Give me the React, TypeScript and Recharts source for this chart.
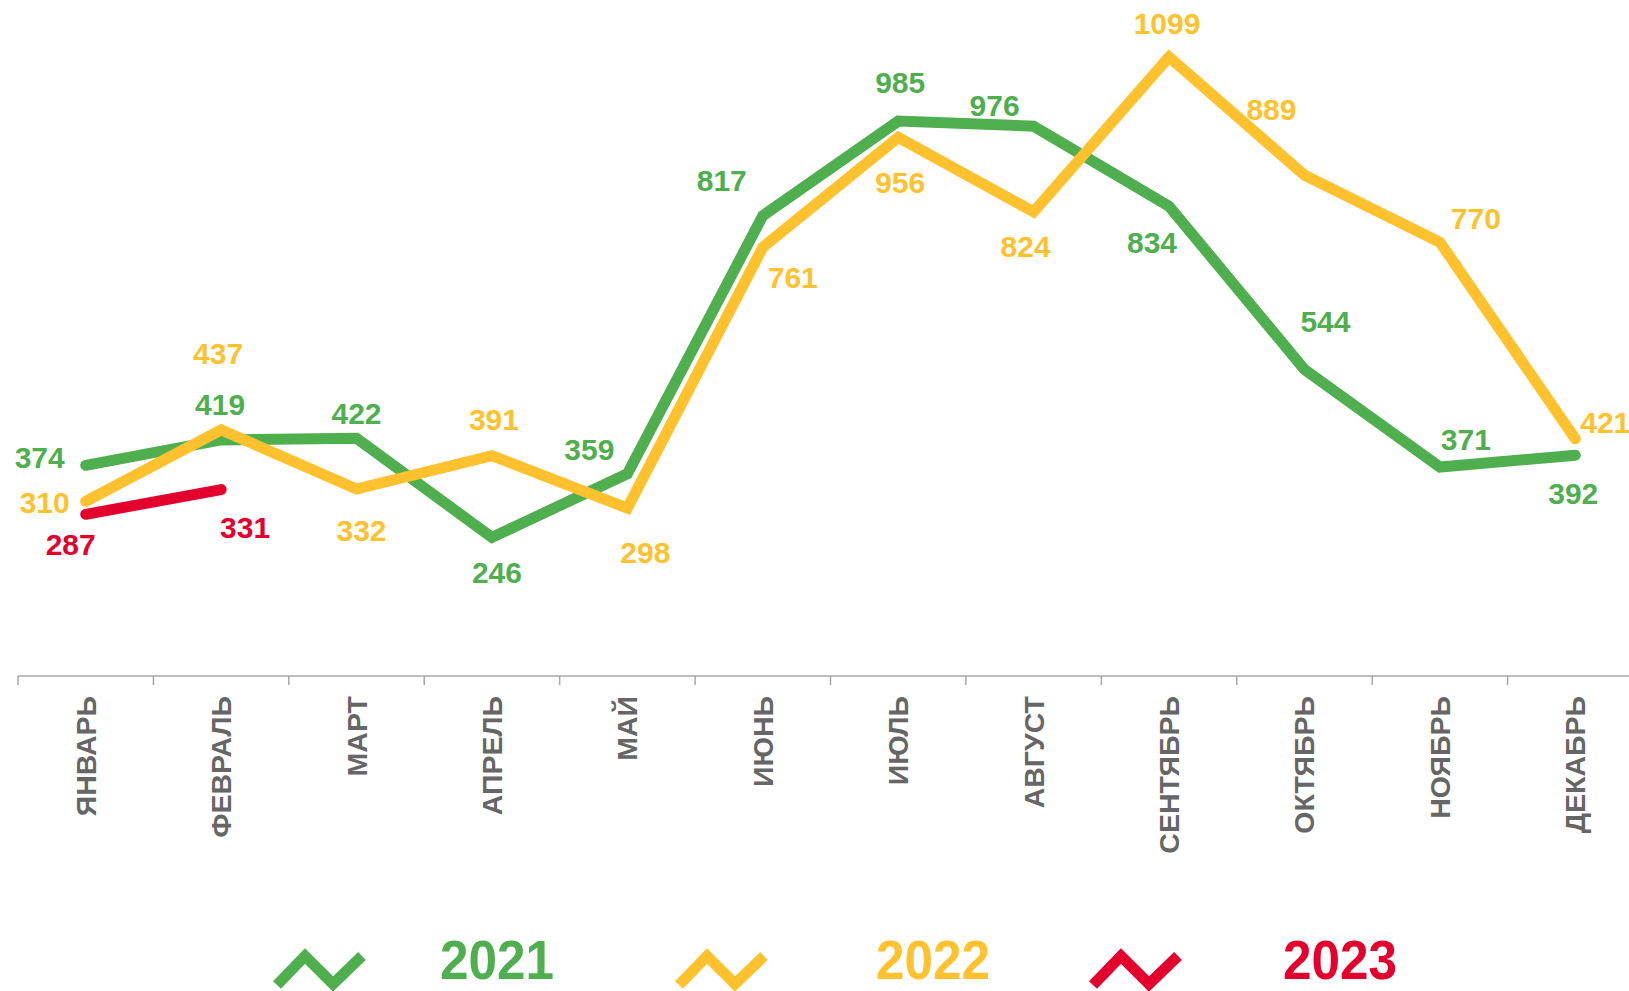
import { LineChart, Line, XAxis, YAxis, LabelList } from "recharts";

const MONTHS = [
  "ЯНВАРЬ",
  "ФЕВРАЛЬ",
  "МАРТ",
  "АПРЕЛЬ",
  "МАЙ",
  "ИЮНЬ",
  "ИЮЛЬ",
  "АВГУСТ",
  "СЕНТЯБРЬ",
  "ОКТЯБРЬ",
  "НОЯБРЬ",
  "ДЕКАБРЬ",
];

const Y2021 = [374, 419, 422, 246, 359, 817, 985, 976, 834, 544, 371, 392];
const Y2022 = [310, 437, 332, 391, 298, 761, 956, 824, 1099, 889, 770, 421];
const Y2023 = [287, 331];

const GREEN = "#4faf4f";
const YELLOW = "#ffc22e";
const RED = "#e3002c";
const FONT = "Arial, 'Liberation Sans', sans-serif";

// label nudges relative to each point [dx, dy]
const OFF_2021 = [
  [-46, -8], [-1, -35], [0, -25], [5, 35], [-38, -24], [-41, -35],
  [2, -39], [-39, -21], [-17, 36], [21, -48], [26, -28], [-2, 38],
];
const OFF_2022 = [
  [-41, 1], [-3, -76], [5, 42], [2, -36], [18, 44], [30, 30],
  [2, 45], [-8, 35], [-2, -33], [-33, -66], [36, -24], [30, -16],
];
const OFF_2023 = [
  [-15, 30], [24, 38],
];

const data = MONTHS.map((m, i) => ({
  month: m,
  y2021: Y2021[i],
  y2022: Y2022[i],
  y2023: i < Y2023.length ? Y2023[i] : null,
}));

const CHART_W = 1643;
const CHART_H = 991;
const LEFT = 18;
const BAND = (CHART_W - LEFT) / MONTHS.length;

function makeLabel(color: string, offsets: number[][]) {
  return (props: any) => {
    const { x, y, value, index } = props;
    if (value == null) return null;
    const [dx, dy] = offsets[index] || [0, 0];
    return (
      <text
        x={x + dx}
        y={y + dy}
        fill={color}
        fontSize={30}
        fontWeight="bold"
        fontFamily={FONT}
        textAnchor="middle"
        dominantBaseline="central"
      >
        {value}
      </text>
    );
  };
}

function MonthTick(props: any) {
  const { x, y, payload } = props;
  return (
    <g>
      <line x1={x - BAND / 2} y1={y} x2={x - BAND / 2} y2={y + 9} stroke="#a6a6a6" strokeWidth={1.5} />
      <text
        transform={`translate(${x}, ${y + 20}) rotate(-90)`}
        textAnchor="end"
        dominantBaseline="central"
        fill="#666666"
        fontSize={28.5}
        fontWeight="bold"
        fontFamily={FONT}
      >
        {payload.value}
      </text>
    </g>
  );
}

const LEGEND = [
  { label: "2021", color: GREEN, icon: 277, text: 440 },
  { label: "2022", color: YELLOW, icon: 679, text: 876 },
  { label: "2023", color: RED, icon: 1093, text: 1283 },
];

export default function App() {
  return (
    <div
      style={{
        position: "absolute",
        left: 0,
        top: 0,
        width: 1629,
        height: 991,
        overflow: "hidden",
        background: "#fff",
      }}
    >
      <LineChart
        width={CHART_W}
        height={CHART_H}
        data={data}
        margin={{ top: 0, right: 0, left: LEFT, bottom: 0 }}
      >
        <XAxis
          dataKey="month"
          height={CHART_H - 676}
          padding={{ left: BAND / 2, right: BAND / 2 }}
          tickSize={0}
          tickMargin={0}
          tickLine={false}
          axisLine={{ stroke: "#a6a6a6", strokeWidth: 1.5 }}
          tick={<MonthTick />}
          interval={0}
        />
        <YAxis hide domain={[0, 1200]} />
        <Line
          dataKey="y2021"
          stroke={GREEN}
          strokeWidth={11}
          strokeLinecap="round"
          dot={false}
          isAnimationActive={false}
        >
          <LabelList dataKey="y2021" content={makeLabel(GREEN, OFF_2021)} />
        </Line>
        <Line
          dataKey="y2022"
          stroke={YELLOW}
          strokeWidth={11}
          strokeLinecap="round"
          dot={false}
          isAnimationActive={false}
        >
          <LabelList dataKey="y2022" content={makeLabel(YELLOW, OFF_2022)} />
        </Line>
        <Line
          dataKey="y2023"
          stroke={RED}
          strokeWidth={11}
          strokeLinecap="round"
          dot={false}
          connectNulls={false}
          isAnimationActive={false}
        >
          <LabelList dataKey="y2023" content={makeLabel(RED, OFF_2023)} />
        </Line>
      </LineChart>
      <svg
        width={1629}
        height={71}
        style={{ position: "absolute", left: 0, top: 920 }}
      >
        {LEGEND.map((l) => {
          const x0 = l.icon;
          const pts = `${x0},65 ${x0 + 28},36 ${x0 + 56},64 ${x0 + 85},36`;
          return (
            <g key={l.label}>
              <polyline points={pts} fill="none" stroke={l.color} strokeWidth={11} strokeLinejoin="miter" />
              <text
                x={l.text}
                y={59}
                fill={l.color}
                fontSize={55}
                fontWeight="bold"
                fontFamily={FONT}
                textLength={114}
                lengthAdjust="spacingAndGlyphs"
              >
                {l.label}
              </text>
            </g>
          );
        })}
      </svg>
    </div>
  );
}
